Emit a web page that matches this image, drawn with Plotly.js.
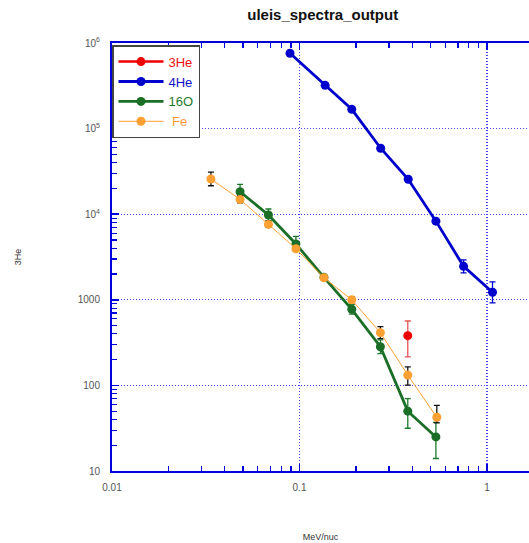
<!DOCTYPE html>
<html><head><meta charset="utf-8">
<script src="https://cdn.plot.ly/plotly-3.0.1.min.js"></script>
<style>html,body{margin:0;padding:0;overflow:hidden;background:#fff}#chart{width:529px;height:543px}</style>
</head><body><div id="chart"></div>
<script>
// Data
const e3He = [0.378];
const f3He = [381];
const f3HePlus = [184];
const f3HeMinus = [166];

const e4He = [0.089, 0.137, 0.19, 0.271, 0.38, 0.534, 0.75, 1.07];
const f4He = [760000, 320000, 168000, 59000, 25600, 8300, 2460, 1225];
const f4HePlus = [0, 0, 0, 0, 0, 0, 470, 395];
const f4HeMinus = [0, 0, 0, 0, 0, 0, 400, 305];

const e16O = [0.0482, 0.0683, 0.0957, 0.135, 0.19, 0.27, 0.378, 0.534];
const f16O = [18300, 9800, 4490, 1830, 775, 283, 50, 25];
const f16OPlus = [4000, 1700, 1005, 100, 110, 57, 20, 12];
const f16OMinus = [3300, 1400, 820, 90, 95, 48, 18.4, 11];

const eFe = [0.0337, 0.0482, 0.0683, 0.0957, 0.135, 0.19, 0.27, 0.378, 0.54];
const fFe = [25800, 14900, 7600, 3950, 1810, 1000, 413, 132, 42.4];
const fFePlus = [5200, 1500, 700, 300, 100, 80, 72, 33, 16];
const fFeMinus = [4300, 1300, 600, 280, 90, 70, 61, 31, 6];

const yTickVals = [10, 100, 1000, 10000, 100000, 1000000];
const yTickText = ['10', '100', '1000', '10<sup>4</sup>', '10<sup>5</sup>', '10<sup>6</sup>'];
const xTickVals = [0.01, 0.1, 1];
const xTickText = ['0.01', '0.1', '1'];

function trace(x, y, plus, minus, name, color, lw, ecolor) {
  return {
    x: x, y: y, name: name, type: 'scatter', mode: 'lines+markers',
    line: {color: color, width: lw},
    marker: {color: color, size: 9, symbol: 'circle'},
    error_y: {type: 'data', symmetric: false, array: plus, arrayminus: minus,
              color: ecolor, thickness: 1.3, width: 3}
  };
}
const data = [
  trace(e3He, f3He, f3HePlus, f3HeMinus, '<span style="color:#ee1111">3He</span>', '#ee0000', 2.5, '#e85555'),
  trace(e4He, f4He, f4HePlus, f4HeMinus, '<span style="color:#1111cc">4He</span>', '#0000cc', 2.8, '#0000cc'),
  trace(e16O, f16O, f16OPlus, f16OMinus, '<span style="color:#1e7a2a">16O</span>', '#1a6e25', 2.8, '#1a7a2a'),
  trace(eFe, fFe, fFePlus, fFeMinus, '<span style="color:#ff9933">&nbsp;Fe</span>', '#ffa033', 1, '#111111')
];
const axisBlue = '#0000dd';
const gridBlue = 'rgb(70,70,255)';
const layout = {
  width: 529, height: 543,
  margin: {l: 112, r: 0, t: 43, b: 72},
  paper_bgcolor: '#fff', plot_bgcolor: '#fff',
  font: {family: '"Liberation Sans", Arial, sans-serif', size: 10, color: '#444'},
  title: {text: '<b>uleis_spectra_output</b>', font: {size: 15, color: '#111'},
          x: 0.61, xanchor: 'center', y: 0.972, yanchor: 'middle'},
  showlegend: true,
  legend: {x: 0, y: 0.995, xanchor: 'left', yanchor: 'top', bgcolor: '#fff',
           bordercolor: '#444', borderwidth: 1.5,
           font: {size: 13, family: '"Liberation Sans", Arial, sans-serif'},
           itemwidth: 45, tracegroupgap: 0},
  xaxis: {
    type: 'log', range: [-2, 0.224], tickmode: 'array', tickvals: xTickVals, ticktext: xTickText,
    showline: true, linecolor: axisBlue, linewidth: 2, mirror: 'allticks',
    ticks: 'inside', ticklen: 7, tickcolor: axisBlue, tickwidth: 1.5,
    showgrid: true, gridcolor: gridBlue, griddash: '1px,2px', gridwidth: 1.2,
    zeroline: false, ticklabelstandoff: 6,
    minor: {dtick: 'D1', ticks: 'inside', ticklen: 5, tickcolor: axisBlue, tickwidth: 1.2, showgrid: false},
    tickfont: {size: 10, color: '#555'},
    title: {text: 'MeV/nuc', font: {size: 9, color: '#333'}, standoff: 42}
  },
  yaxis: {
    type: 'log', range: [1, 6], tickmode: 'array', tickvals: yTickVals, ticktext: yTickText,
    showline: true, linecolor: axisBlue, linewidth: 2, mirror: false,
    ticks: 'inside', ticklen: 7, tickcolor: axisBlue, tickwidth: 1.5,
    showgrid: true, gridcolor: gridBlue, griddash: '1px,2px', gridwidth: 1.2,
    zeroline: false, ticklabelstandoff: 8,
    minor: {dtick: 'D1', ticks: 'inside', ticklen: 5, tickcolor: axisBlue, tickwidth: 1.2, showgrid: false},
    tickfont: {size: 10, color: '#555'},
    title: {text: '3He', font: {size: 9, color: '#333'}, standoff: 55}
  }
};
Plotly.newPlot('chart', data, layout, {displayModeBar: false, staticPlot: true});
</script></body></html>
